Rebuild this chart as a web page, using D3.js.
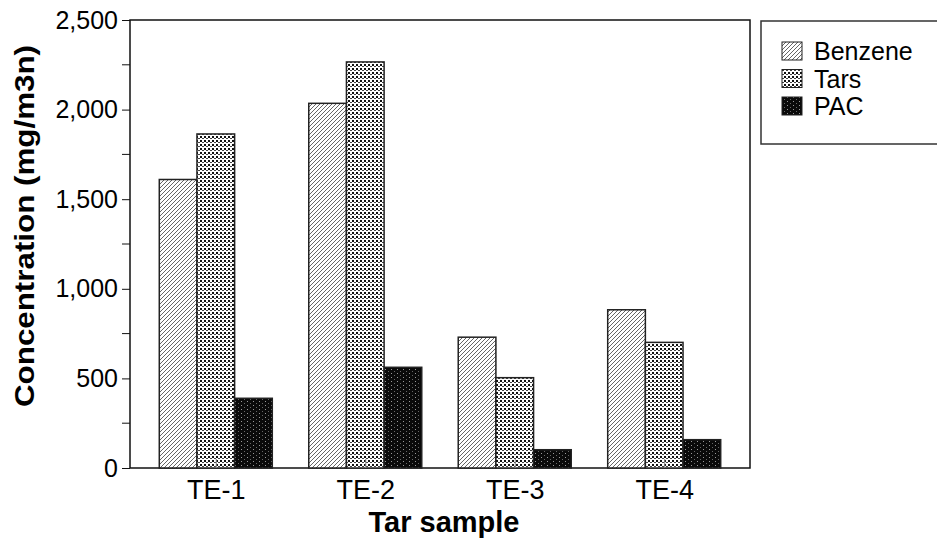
<!DOCTYPE html>
<html>
<head>
<meta charset="utf-8">
<script src="https://cdn.jsdelivr.net/npm/d3@7"></script>
<style>
body { margin: 0; background: #fff; }
text { font-family: "Liberation Sans", Arial, sans-serif; }
</style>
</head>
<body>
<svg id="chart" width="937" height="548"></svg>
<script>
// data
const categories = ["TE-1", "TE-2", "TE-3", "TE-4"];
const seriesNames = ["Benzene", "Tars", "PAC"];
const benzene = [1610, 2035, 730, 883];
const tars = [1864, 2266, 504, 701];
const pac = [389, 562, 102, 158];
const yTicks = [0, 500, 1000, 1500, 2000, 2500];
const yMinorTicks = [250, 750, 1250, 1750, 2250];

const values = [benzene, tars, pac];

const svg = d3.select("#chart");
const margin = {left: 130, top: 20, right: 750, bottom: 468};
const fontFamily = "'Liberation Sans', Arial, sans-serif";

const defs = svg.append("defs");

// hatch for Benzene
let p1 = defs.append("pattern").attr("id", "pat-benzene")
	.attr("patternUnits", "userSpaceOnUse").attr("width", 4).attr("height", 4);
p1.append("rect").attr("width", 4).attr("height", 4).attr("fill", "#fff");
p1.append("path").attr("d", "M-1,1 l2,-2 M0,4 l4,-4 M3,5 l2,-2")
	.attr("stroke", "#666").attr("stroke-width", 1);

// checker dots for Tars
let p2 = defs.append("pattern").attr("id", "pat-tars")
	.attr("patternUnits", "userSpaceOnUse").attr("width", 4).attr("height", 4);
p2.append("rect").attr("width", 4).attr("height", 4).attr("fill", "#fff");
p2.append("rect").attr("x", 0).attr("y", 0).attr("width", 2).attr("height", 2).attr("fill", "#111");
p2.append("rect").attr("x", 2).attr("y", 2).attr("width", 2).attr("height", 1).attr("fill", "#444");

// black with small white dots for PAC
let p3 = defs.append("pattern").attr("id", "pat-pac")
	.attr("patternUnits", "userSpaceOnUse").attr("width", 6).attr("height", 4);
p3.append("rect").attr("width", 6).attr("height", 4).attr("fill", "#0a0a0a");
p3.append("rect").attr("x", 1).attr("y", 1).attr("width", 1).attr("height", 1).attr("fill", "#999");
p3.append("rect").attr("x", 4).attr("y", 3).attr("width", 1).attr("height", 1).attr("fill", "#666");

const fills = ["url(#pat-benzene)", "url(#pat-tars)", "url(#pat-pac)"];

const x = d3.scalePoint().domain(categories).range([margin.left, margin.right]).padding(0.574);
const xInner = d3.scaleBand().domain(seriesNames).range([-56.5, 56.5]);
const y = d3.scaleLinear().domain([0, 2500]).range([margin.bottom, margin.top]);

// frame
svg.append("rect")
	.attr("x", margin.left).attr("y", margin.top)
	.attr("width", margin.right - margin.left).attr("height", margin.bottom - margin.top)
	.attr("fill", "none").attr("stroke", "#111").attr("stroke-width", 1.5);

// bars
seriesNames.forEach(function (s, si) {
	svg.append("g").selectAll("rect")
		.data(values[si])
		.join("rect")
		.attr("x", (d, i) => x(categories[i]) + xInner(s))
		.attr("y", d => y(d))
		.attr("width", xInner.bandwidth())
		.attr("height", d => y(0) - y(d))
		.attr("fill", fills[si])
		.attr("stroke", "#222")
		.attr("stroke-width", 1.5);
});

// y axis
let yAxis = svg.append("g").attr("transform", "translate(" + margin.left + ",0)")
	.call(d3.axisLeft(y).tickValues(yTicks).tickFormat(d3.format(",")).tickSize(8).tickPadding(4));
yAxis.select(".domain").remove();
yAxis.selectAll("text").attr("font-size", 25).attr("fill", "#000").style("font-family", fontFamily);
yAxis.selectAll("line").attr("stroke", "#111");
svg.append("g").selectAll("line")
	.data(yMinorTicks)
	.join("line")
	.attr("x1", margin.left - 8).attr("x2", margin.left)
	.attr("y1", d => y(d)).attr("y2", d => y(d))
	.attr("stroke", "#111");

// x axis (ticks point inward)
let xAxis = svg.append("g").attr("transform", "translate(0," + margin.bottom + ")")
	.call(d3.axisBottom(x).tickSize(-9).tickPadding(12));
xAxis.select(".domain").remove();
xAxis.selectAll("line").attr("stroke", "#888");
xAxis.selectAll("text").attr("font-size", 27).attr("fill", "#000").style("font-family", fontFamily);

// axis titles
svg.append("text")
	.attr("x", 444).attr("y", 532)
	.attr("text-anchor", "middle").attr("font-size", 29).attr("font-weight", "bold")
	.text("Tar sample");
svg.append("text")
	.attr("transform", "translate(34,226) rotate(-90)")
	.attr("text-anchor", "middle").attr("font-size", 28).attr("font-weight", "bold")
	.attr("textLength", 362).attr("lengthAdjust", "spacingAndGlyphs")
	.text("Concentration (mg/m3n)");

// legend
let legend = svg.append("g").attr("id", "legend");
legend.append("rect")
	.attr("x", 761).attr("y", 21).attr("width", 190).attr("height", 123)
	.attr("fill", "#fff").attr("stroke", "#333").attr("stroke-width", 1.5);
seriesNames.forEach(function (s, i) {
	let cy = 51 + i * 27.5;
	legend.append("rect")
		.attr("x", 782).attr("y", cy - 9).attr("width", 20).attr("height", 18)
		.attr("fill", fills[i]).attr("stroke", "#222").attr("stroke-width", 1);
	legend.append("text")
		.attr("x", 814).attr("y", cy + 9)
		.attr("font-size", 25)
		.text(s);
});
</script>
</body>
</html>
